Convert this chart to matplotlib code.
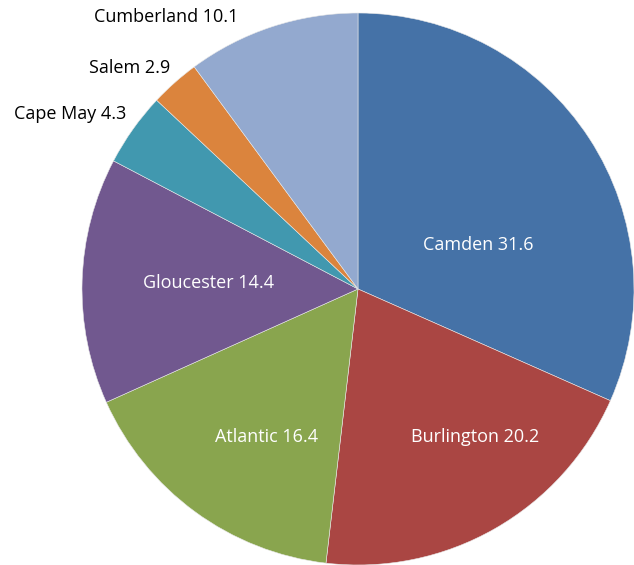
import matplotlib.pyplot as plt

# county shares, drawn clockwise from 12 o'clock
counties = ['Camden', 'Burlington', 'Atlantic', 'Gloucester', 'Cape May', 'Salem', 'Cumberland']
shares = [31.6, 20.2, 16.4, 14.4, 4.3, 2.9, 10.1]
colors = ['#4572A7', '#AA4643', '#89A54E', '#71588F', '#4198AF', '#DB843D', '#93A9CF']

# label anchor points (in pie-radius units) and text colours
label_pos = [(0.435, 0.159), (0.425, -0.536), (-0.33, -0.536), (-0.543, 0.022),
             (-1.043, 0.634), (-0.826, 0.80), (-0.696, 0.986)]
label_color = ['white', 'white', 'white', 'white', 'black', 'black', 'black']

plt.rcParams['font.family'] = ['Open Sans', 'DejaVu Sans']

fig = plt.figure(figsize=(6.34, 5.65), dpi=100)
ax = fig.add_axes([0, 0, 1, 1])

ax.pie(shares, colors=colors, startangle=90, counterclock=False, radius=1.0,
       wedgeprops=dict(edgecolor='#e8e8e8', linewidth=0.4))

for name, val, (x, y), c in zip(counties, shares, label_pos, label_color):
    ax.text(x, y, f'{name} {val}', ha='center', va='center', color=c, fontsize=13)

ax.set_xlim(-358 / 276, (634 - 358) / 276)
ax.set_ylim(-(565 - 289) / 276, 289 / 276)
ax.set_aspect('equal')
ax.axis('off')

fig.savefig('out.png', dpi=100, facecolor='white')
